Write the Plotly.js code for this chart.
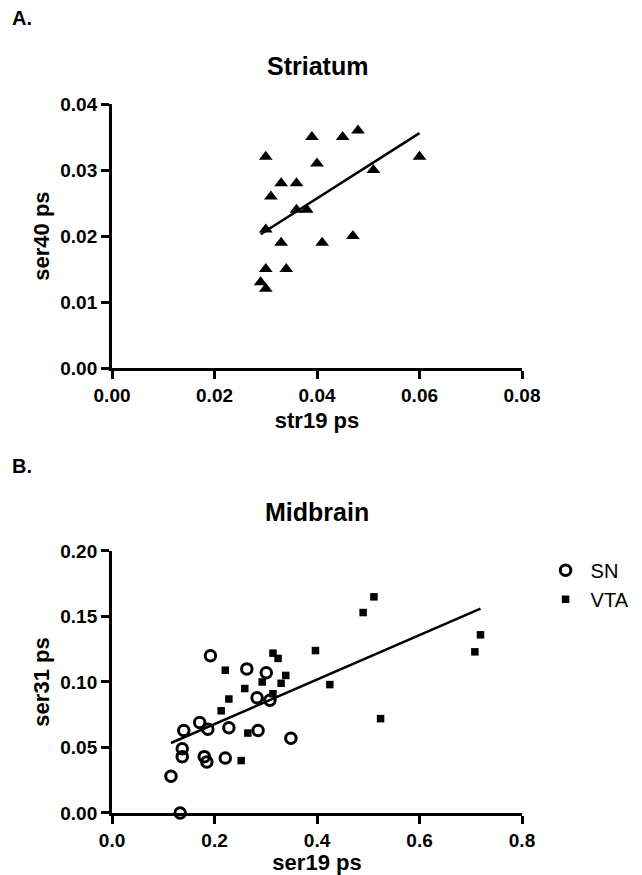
<!DOCTYPE html>
<html>
<head>
<meta charset="utf-8">
<script src="https://cdn.plot.ly/plotly-3.0.1.min.js"></script>
<style>html,body{margin:0;padding:0;background:#fff;}#chart{width:642px;height:875px;}</style>
</head>
<body>
<div id="chart"></div>
<script>
// Striatum (panel A)
const strX = [0.030,0.039,0.045,0.048,0.040,0.060,0.051,0.033,0.036,0.031,0.036,0.038,0.030,0.033,0.041,0.047,0.030,0.034,0.029,0.030];
const strY = [0.032,0.035,0.035,0.036,0.031,0.032,0.030,0.028,0.028,0.026,0.024,0.024,0.021,0.019,0.019,0.020,0.015,0.015,0.013,0.012];
// Midbrain (panel B)
const snX = [0.192,0.263,0.301,0.283,0.308,0.171,0.140,0.187,0.228,0.285,0.349,0.137,0.137,0.180,0.185,0.221,0.115,0.133];
const snY = [0.120,0.110,0.107,0.088,0.086,0.069,0.063,0.064,0.065,0.063,0.057,0.049,0.043,0.043,0.039,0.042,0.028,0.000];
const vtaX = [0.221,0.314,0.324,0.293,0.259,0.339,0.330,0.228,0.314,0.213,0.265,0.252,0.397,0.425,0.490,0.511,0.524,0.708,0.719];
const vtaY = [0.109,0.122,0.118,0.100,0.095,0.105,0.099,0.087,0.091,0.078,0.061,0.040,0.124,0.098,0.153,0.165,0.072,0.123,0.136];
const seriesNames = ['SN', 'VTA'];
const xTickVals1 = [0, 0.02, 0.04, 0.06, 0.08];
const yTickVals1 = [0, 0.01, 0.02, 0.03, 0.04];
const xTickVals2 = [0, 0.2, 0.4, 0.6, 0.8];
const yTickVals2 = [0, 0.05, 0.10, 0.15, 0.20];

function fitLine(xs, ys) {
  const n = xs.length;
  const mx = xs.reduce((a, b) => a + b, 0) / n;
  const my = ys.reduce((a, b) => a + b, 0) / n;
  let sxy = 0, sxx = 0;
  for (let i = 0; i < n; i++) { sxy += (xs[i] - mx) * (ys[i] - my); sxx += (xs[i] - mx) ** 2; }
  const b = sxy / sxx, a = my - b * mx;
  const x0 = Math.min(...xs), x1 = Math.max(...xs);
  return { x: [x0, x1], y: [a + b * x0, a + b * x1] };
}
const fit1 = fitLine(strX, strY);
const mbX = snX.concat(vtaX), mbY = snY.concat(vtaY);
const fit2 = fitLine(mbX, mbY);

const FONT = 'Liberation Sans, Arial, sans-serif';
const bold = (s) => ({ family: FONT, size: s, color: '#000', weight: 'bold' });

const traces = [
  { x: fit1.x, y: fit1.y, xaxis: 'x', yaxis: 'y', mode: 'lines', line: { color: '#000', width: 2.5 }, showlegend: false, hoverinfo: 'skip' },
  { x: strX, y: strY, xaxis: 'x', yaxis: 'y', mode: 'markers', marker: { symbol: 'triangle-up', size: 12, color: '#000' }, showlegend: false, cliponaxis: false },
  { x: fit2.x, y: fit2.y, xaxis: 'x2', yaxis: 'y2', mode: 'lines', line: { color: '#000', width: 2.5 }, showlegend: false, hoverinfo: 'skip' },
  { x: snX, y: snY, xaxis: 'x2', yaxis: 'y2', name: seriesNames[0], mode: 'markers', marker: { symbol: 'circle-open', size: 10.5, color: '#000', line: { width: 3, color: '#000' } }, cliponaxis: false },
  { x: vtaX, y: vtaY, xaxis: 'x2', yaxis: 'y2', name: seriesNames[1], mode: 'markers', marker: { symbol: 'square', size: 7.5, color: '#000' }, cliponaxis: false }
];

const axisCommon = {
  showline: true, linewidth: 3, linecolor: '#000', mirror: false,
  ticks: 'outside', ticklen: 8, tickwidth: 3, tickcolor: '#000',
  showgrid: false, zeroline: false, fixedrange: true,
  tickfont: bold(19), automargin: false
};

const layout = {
  width: 642, height: 875,
  margin: { l: 0, r: 0, t: 0, b: 0, pad: 0 },
  paper_bgcolor: '#fff', plot_bgcolor: '#fff',
  font: { family: FONT, color: '#000' },
  xaxis: Object.assign({}, axisCommon, { domain: [0.1745, 0.8131], anchor: 'y', range: [0, 0.08], tickvals: xTickVals1, tickformat: '.2f', title: { text: 'str19 ps', font: bold(22), standoff: 8 } }),
  yaxis: Object.assign({}, axisCommon, { domain: [0.5794, 0.8811], anchor: 'x', range: [0, 0.04], tickvals: yTickVals1, tickformat: '.2f', title: { text: 'ser40 ps', font: bold(22), standoff: 5 } }),
  xaxis2: Object.assign({}, axisCommon, { domain: [0.1745, 0.8131], anchor: 'y2', range: [0, 0.8], tickvals: xTickVals2, tickformat: '.1f', title: { text: 'ser19 ps', font: bold(22), standoff: 8 } }),
  yaxis2: Object.assign({}, axisCommon, { domain: [0.0709, 0.3703], anchor: 'x2', range: [0, 0.2], tickvals: yTickVals2, tickformat: '.2f', title: { text: 'ser31 ps', font: bold(22), standoff: 5 } }),
  showlegend: true,
  legend: { x: 0.842, y: 0.3706, xanchor: 'left', yanchor: 'top', itemwidth: 40, font: { family: FONT, size: 20, color: '#000' }, bgcolor: 'rgba(0,0,0,0)', tracegroupgap: 0 },
  annotations: [
    { text: 'A.', xref: 'paper', yref: 'paper', x: 10 / 642, y: 1 - 17.5 / 875, xanchor: 'left', yanchor: 'middle', showarrow: false, font: bold(20) },
    { text: 'B.', xref: 'paper', yref: 'paper', x: 10 / 642, y: 1 - 465.5 / 875, xanchor: 'left', yanchor: 'middle', showarrow: false, font: bold(20) },
    { text: 'Striatum', xref: 'paper', yref: 'paper', x: 317 / 642, y: 1 - 66 / 875, xanchor: 'center', yanchor: 'middle', showarrow: false, font: bold(25) },
    { text: 'Midbrain', xref: 'paper', yref: 'paper', x: 317 / 642, y: 1 - 512 / 875, xanchor: 'center', yanchor: 'middle', showarrow: false, font: bold(25) }
  ]
};

Plotly.newPlot('chart', traces, layout, { displayModeBar: false, staticPlot: true });
</script>
</body>
</html>
